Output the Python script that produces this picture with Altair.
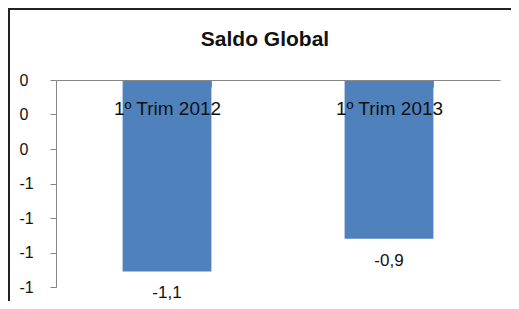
import altair as alt
import pandas as pd

# Data
categorias = ["1º Trim 2012", "1º Trim 2013"]
valores = [-1.11, -0.92]
rotulos = ["-1,1", "-0,9"]
y_ticks = [0, -0.2, -0.4, -0.6, -0.8, -1.0, -1.2]
titulo = "Saldo Global"

df = pd.DataFrame({"cat": categorias, "valor": valores, "rotulo": rotulos})

FONT = "Liberation Sans"
AXIS_GRAY = "#868686"
BAR = "#4F81BD"

x_enc = alt.X(
    "cat:N",
    sort=None,
    scale=alt.Scale(paddingInner=0.6, paddingOuter=0.3),
    axis=alt.Axis(
        title=None,
        orient="bottom",
        offset=-207,
        labelAngle=0,
        tickBand="extent",
        tickSize=7,
        tickColor=AXIS_GRAY,
        domainColor=AXIS_GRAY,
        labelPadding=12,
        labelFont=FONT,
        labelFontSize=19,
        labelColor="#111111",
        zindex=2,
    ),
)

y_scale = alt.Scale(domain=[-1.2, 0], nice=False)

bars = alt.Chart(df).mark_bar(color=BAR).encode(
    x=x_enc,
    y=alt.Y(
        "valor:Q",
        scale=y_scale,
        axis=alt.Axis(
            title=None,
            values=y_ticks,
            tickCount=20,
            labelOverlap=False,
            grid=False,
            tickSize=6,
            tickColor=AXIS_GRAY,
            domainColor=AXIS_GRAY,
            labelAlign="left",
            labelPadding=31,
            labelExpr="toString(round(datum.value))",
            labelFont=FONT,
            labelFontSize=16,
            labelColor="#111111",
        ),
    ),
)

labels = alt.Chart(df).mark_text(
    baseline="top", dy=14, font=FONT, fontSize=17, color="#111111"
).encode(
    x=alt.X("cat:N", sort=None),
    y=alt.Y("valor:Q", scale=y_scale),
    text="rotulo:N",
)

one = alt.Data(values=[{}])

title_mark = alt.Chart(one).mark_text(
    font=FONT, fontSize=21, fontWeight="bold", color="#111111", baseline="middle", align="center"
).encode(x=alt.value(209), y=alt.value(-40), text=alt.value(titulo))

border_top = alt.Chart(one).mark_rule(color="#222222", strokeWidth=2).encode(
    x=alt.value(-48), x2=alt.value(455), y=alt.value(-71)
)
border_left = alt.Chart(one).mark_rule(color="#222222", strokeWidth=2).encode(
    x=alt.value(-47), y=alt.value(-72), y2=alt.value(221)
)

chart = alt.layer(bars, labels, title_mark, border_top, border_left).properties(
    width=444,
    height=207,
    autosize="none",
    padding={"left": 48, "top": 72, "right": 11, "bottom": 14},
).configure_view(stroke=None)

chart.save("out.html", embed_options={"renderer": "svg", "actions": False})
